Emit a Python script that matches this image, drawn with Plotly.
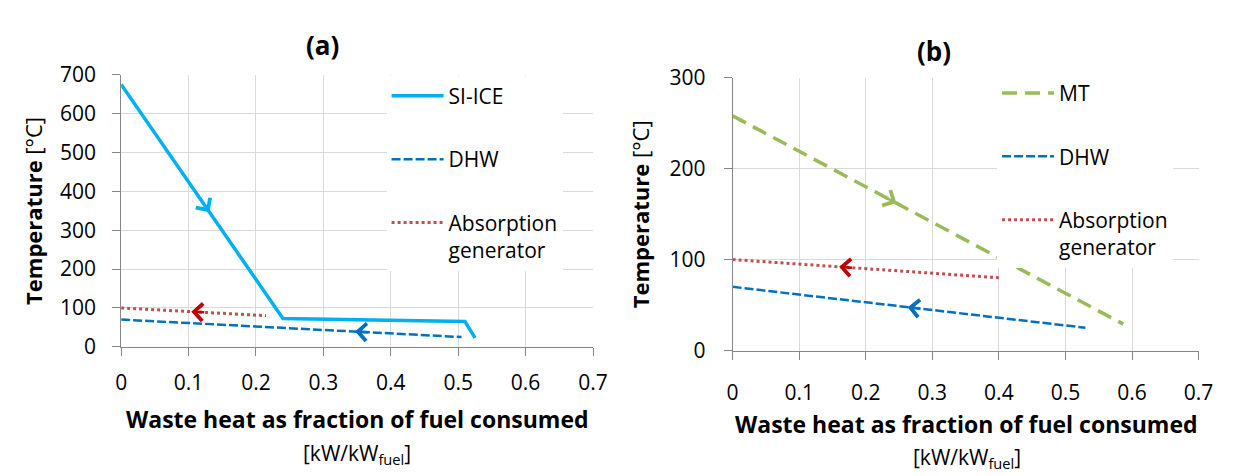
import numpy as np
import plotly.graph_objects as go

W, H = 1239, 476
FONT = "Open Sans"

# ---------------- data ----------------
# Panel (a): SI-ICE exhaust, DHW and absorption generator
ice_x = [0.0, 0.24, 0.51, 0.525]
ice_y = [675, 73, 65, 23]
dhw_a_x = [0.0, 0.505]
dhw_a_y = [70, 25]
abs_a_x = [0.0, 0.215]
abs_a_y = [100, 80]

# Panel (b): MT exhaust, DHW and absorption generator
mt_x = [0.0, 0.587]
mt_y = [258, 29]
dhw_b_x = [0.0, 0.53]
dhw_b_y = [70, 25]
abs_b_x = [0.0, 0.40]
abs_b_y = [100, 80]

# flow-direction arrows: (series, x position, +1 = towards larger x, -1 = towards smaller x)
arrows_a = [("ice", 0.131, 1), ("dhw_a", 0.347, -1), ("abs_a", 0.104, -1)]
arrows_b = [("mt", 0.246, 1), ("dhw_b", 0.263, -1), ("abs_b", 0.16, -1)]

x_tickvals = [0, 0.1, 0.2, 0.3, 0.4, 0.5, 0.6, 0.7]
x_ticktext = ["0", "0.1", "0.2", "0.3", "0.4", "0.5", "0.6", "0.7"]
ya_tickvals = [0, 100, 200, 300, 400, 500, 600, 700]
yb_tickvals = [0, 100, 200, 300]

# ---------------- styles ----------------
C_ICE = "#00B0F0"
C_DHW = "#0070C0"
C_ABS = "#C0504D"
C_ABS_ARROW = "#C00000"
C_MT = "#9BBB59"

series = {
    "ice": (ice_x, ice_y, dict(color=C_ICE, width=3.5, dash="solid"), "SI-ICE", "x", "y", "legend", C_ICE),
    "dhw_a": (dhw_a_x, dhw_a_y, dict(color=C_DHW, width=2.5, dash="9px,3px"), "DHW", "x", "y", "legend", C_DHW),
    "abs_a": (abs_a_x, abs_a_y, dict(color=C_ABS, width=3, dash="3px,3px"), "Absorption<br>generator", "x", "y", "legend", C_ABS_ARROW),
    "mt": (mt_x, mt_y, dict(color=C_MT, width=3.5, dash="15px,8px"), "MT", "x2", "y2", "legend2", C_MT),
    "dhw_b": (dhw_b_x, dhw_b_y, dict(color=C_DHW, width=2.5, dash="9px,3px"), "DHW", "x2", "y2", "legend2", C_DHW),
    "abs_b": (abs_b_x, abs_b_y, dict(color=C_ABS, width=3, dash="3px,3px"), "Absorption<br>generator", "x2", "y2", "legend2", C_ABS_ARROW),
}

fig = go.Figure()
for key, (xs, ys, line, name, xa, ya, lg, _) in series.items():
    fig.add_trace(go.Scatter(
        x=xs, y=ys, mode="lines", line=line, name=name,
        xaxis=xa, yaxis=ya, legend=lg, legendgroup=key, showlegend=True,
        hoverinfo="skip",
    ))

annotations = []
for key, xpos, d in arrows_a + arrows_b:
    xs, ys, line, name, xa, ya, lg, acol = series[key]
    ypos = float(np.interp(xpos, xs, ys))
    xt = xpos - d * 0.02
    yt = float(np.interp(xt, xs, ys))
    annotations.append(dict(
        x=xpos, y=ypos, ax=xt, ay=yt, xref=xa, yref=ya, axref=xa, ayref=ya,
        showarrow=True, arrowhead=4, arrowsize=1.35, arrowwidth=2.5,
        arrowcolor=acol, text="", font=dict(size=1), borderpad=0,
    ))


def px(x):
    return x / W


def py(y):
    return 1 - y / H


def txt(text, x, y, size=21, bold=False, angle=0):
    if bold:
        text = "<b>" + text + "</b>"
    return dict(text=text, x=px(x), y=py(y), xref="paper", yref="paper",
                showarrow=False, xanchor="center", yanchor="middle",
                textangle=angle, font=dict(family=FONT, size=size, color="black"))


annotations += [
    txt("(a)", 314, 23, size=26, bold=True),
    txt("(b)", 936, 30, size=26, bold=True),
    txt("<b>Temperature</b> [°C]", 20, 200, size=22, angle=-90),
    txt("<b>Temperature</b> [°C]", 637, 203, size=22, angle=-90),
    txt("Waste heat as fraction of fuel consumed", 349, 421, size=23, bold=True),
    txt("Waste heat as fraction of fuel consumed", 969, 426, size=23, bold=True),
    txt("[kW/kW<sub>fuel</sub>]", 349, 458),
    txt("[kW/kW<sub>fuel</sub>]", 969, 462),
]

axis_common = dict(
    showgrid=True, gridcolor="#D9D9D9", gridwidth=1, zeroline=False,
    showline=True, linecolor="#868686", linewidth=1,
    ticks="outside", ticklen=8, tickcolor="#868686", tickwidth=1,
    tickfont=dict(family=FONT, size=21, color="black"),
    fixedrange=True,
)

legend_common = dict(
    bgcolor="white", borderwidth=0, font=dict(family=FONT, size=21, color="black"),
    tracegroupgap=33, itemwidth=52, valign="top", traceorder="grouped",
    xanchor="left", yanchor="top",
)

fig.update_layout(
    width=W, height=H, autosize=False,
    margin=dict(l=0, r=0, t=0, b=0),
    paper_bgcolor="white", plot_bgcolor="white",
    font=dict(family=FONT, size=21, color="black"),
    xaxis=dict(domain=[px(109), px(589)], range=[0, 0.7], anchor="y",
               tickvals=x_tickvals, ticktext=x_ticktext, ticklabelstandoff=9, **axis_common),
    yaxis=dict(domain=[py(344), py(55)], range=[0, 700], anchor="x",
               tickvals=ya_tickvals, ticklabelstandoff=12, **axis_common),
    xaxis2=dict(domain=[px(731), px(1205)], range=[0, 0.7], anchor="y2",
                tickvals=x_tickvals, ticktext=x_ticktext, ticklabelstandoff=15, **axis_common),
    yaxis2=dict(domain=[py(348), py(58)], range=[0, 300], anchor="x2",
                tickvals=yb_tickvals, ticklabelstandoff=14, **axis_common),
    legend=dict(x=px(379), y=py(56), **legend_common),
    legend2=dict(x=px(1000), y=py(53), **legend_common),
    annotations=annotations,
    showlegend=True,
)

fig.write_html("out.html")
